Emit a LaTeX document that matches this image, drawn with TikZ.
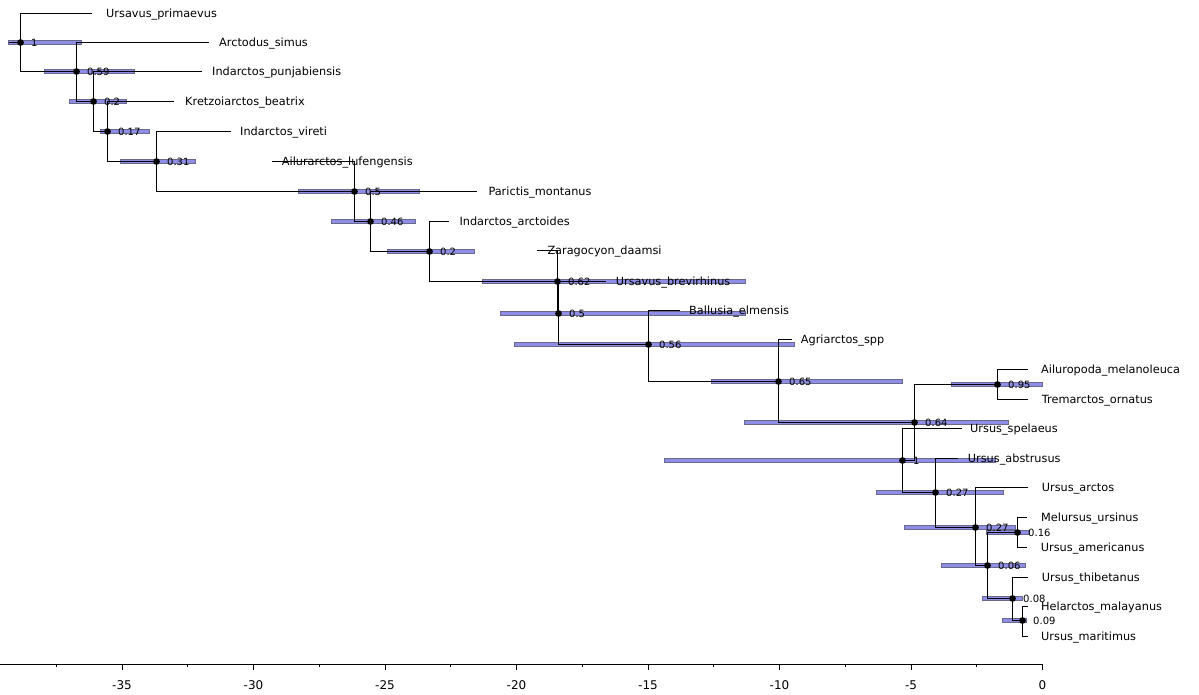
\documentclass[tikz,border=0pt]{standalone}
\usepackage{fontspec}
\setmainfont{DejaVu Sans}
\definecolor{barfill}{RGB}{142,142,230}
\definecolor{barline}{RGB}{105,105,140}
\begin{document}
\begin{tikzpicture}[x=1pt,y=-1pt,
  branch/.style={line width=1pt, black},
  hpd/.style={fill=barfill, draw=barline, line width=0.8pt},
  dot/.style={circle, fill=black, inner sep=0pt, minimum size=6.8pt},
  tiplab/.style={anchor=west, inner sep=0pt, font=\fontsize{11.3}{13}\selectfont, text height=8.2pt, text depth=0pt},
  nodelab/.style={anchor=west, inner sep=0pt, font=\fontsize{10}{12}\selectfont, text height=7.3pt, text depth=0pt, xshift=10.5pt},
  axlab/.style={font=\fontsize{12}{14}\selectfont, inner sep=0pt, anchor=center},
  axisline/.style={line width=1pt, black}
]
\useasboundingbox (0,0) rectangle (1199,695);

% internal nodes
\coordinate (rs) at (8.5,42.5);
\coordinate (r) at (20.5,42.5);
\coordinate (a) at (76.5,71.5);
\coordinate (b) at (93.5,101.5);
\coordinate (c) at (107.5,131.5);
\coordinate (d) at (156.5,161.5);
\coordinate (e) at (354.5,191.5);
\coordinate (f) at (370.5,221.5);
\coordinate (g) at (429.5,251.5);
\coordinate (h) at (557.5,281.5);
\coordinate (i) at (558.5,313.5);
\coordinate (j) at (648.5,344.5);
\coordinate (k) at (778.5,381.5);
\coordinate (l) at (914.5,422.5);
\coordinate (m) at (997.5,384.5);
\coordinate (nn) at (902.5,460.5);
\coordinate (o) at (935.5,492.5);
\coordinate (p) at (975.5,527.5);
\coordinate (q) at (987.5,565.5);
\coordinate (s) at (1017.5,532.5);
\coordinate (t) at (1012.5,598.5);
\coordinate (u) at (1022.5,620.5);

% tips
\coordinate (T1) at (91.5,13.5);
\coordinate (T2) at (208.5,42.5);
\coordinate (T3) at (201.5,71.5);
\coordinate (T4) at (173.5,101.5);
\coordinate (T5) at (230.5,131.5);
\coordinate (T6) at (271.5,161.5);
\coordinate (T7) at (476.5,191.5);
\coordinate (T8) at (448.5,221.5);
\coordinate (T9) at (536.5,250.5);
\coordinate (T10) at (605.5,281.5);
\coordinate (T11) at (679.5,310.5);
\coordinate (T12) at (791.5,339.5);
\coordinate (T13) at (1027.5,369.5);
\coordinate (T14) at (1027.5,399.5);
\coordinate (T15) at (961.5,428.5);
\coordinate (T16) at (957.5,458.5);
\coordinate (T17) at (1027.5,487.5);
\coordinate (T18) at (1026.5,517.5);
\coordinate (T19) at (1026.5,547.5);
\coordinate (T20) at (1027.5,577.5);
\coordinate (T21) at (1027.5,606.5);
\coordinate (T22) at (1027.5,636.5);

% HPD bars
\foreach \xa/\xb/\yy in {8.5/81.5/42.5, 44.5/134.5/71.5, 69.5/126.5/101.5, 100.5/149.5/131.5,
  120.5/195.5/161.5, 298.5/419.5/191.5, 331.5/415.5/221.5, 387.5/474.5/251.5, 482.5/745.5/281.5,
  500.5/745.5/313.5, 514.5/794.5/344.5, 711.5/902.5/381.5, 744.5/1008.5/422.5, 951.5/1042.5/384.5,
  664.5/995.5/460.5, 876.5/1003.5/492.5, 904.5/1015.5/527.5, 941.5/1025.5/565.5, 986.5/1029.5/532.5,
  982.5/1022.5/598.5, 1002.5/1026.5/620.5}
  \draw[hpd] (\xa,\yy-2) rectangle (\xb,\yy+2);

% branches
\draw[branch] (rs) -- (r);
\foreach \pa/\ch in {r/T1, r/a, a/T2, a/b, b/T3, b/c, c/T4, c/d, d/T5, d/e, e/T6, e/f,
  f/T7, f/g, g/T8, g/h, h/T9, h/i, i/T10, i/j, j/T11, j/k, k/T12, k/l, l/m, l/nn,
  m/T13, m/T14, nn/T15, nn/o, o/T16, o/p, p/T17, p/q, q/s, q/t, s/T18, s/T19,
  t/T20, t/u, u/T21, u/T22}
  \draw[branch] (\pa) |- (\ch);

% node dots and posterior labels
\foreach \nd/\val in {r/1, a/0.59, b/0.2, c/0.17, d/0.31, e/0.5, f/0.46, g/0.2, h/0.62,
  i/0.5, j/0.56, k/0.65, l/0.64, m/0.95, nn/1, o/0.27, p/0.27, q/0.06, s/0.16, t/0.08, u/0.09}
{
  \node[dot] (dot-\nd) at (\nd) {};
  \node[nodelab] (lab-\nd) at (\nd) {\val};
}

% tip labels
\node[tiplab] (L1) at (106,13.5) {Ursavus\_primaevus};
\node[tiplab] (L2) at (219,42.5) {Arctodus\_simus};
\node[tiplab] (L3) at (212,71.5) {Indarctos\_punjabiensis};
\node[tiplab] (L4) at (185,101.5) {Kretzoiarctos\_beatrix};
\node[tiplab] (L5) at (240,131.5) {Indarctos\_vireti};
\node[tiplab] (L6) at (281.7,161.5) {Ailurarctos\_lufengensis};
\node[tiplab] (L7) at (488.3,191.5) {Parictis\_montanus};
\node[tiplab] (L8) at (459.3,221.5) {Indarctos\_arctoides};
\node[tiplab] (L9) at (547.3,250.5) {Zaragocyon\_daamsi};
\node[tiplab] (L10) at (615.7,281.5) {Ursavus\_brevirhinus};
\node[tiplab] (L11) at (689,310.5) {Ballusia\_elmensis};
\node[tiplab] (L12) at (800.7,339.5) {Agriarctos\_spp};
\node[tiplab] (L13) at (1041,369.5) {Ailuropoda\_melanoleuca};
\node[tiplab] (L14) at (1041.7,399.5) {Tremarctos\_ornatus};
\node[tiplab] (L15) at (970,428.5) {Ursus\_spelaeus};
\node[tiplab] (L16) at (967.7,458.5) {Ursus\_abstrusus};
\node[tiplab] (L17) at (1041.7,487.5) {Ursus\_arctos};
\node[tiplab] (L18) at (1041,517.5) {Melursus\_ursinus};
\node[tiplab] (L19) at (1040.7,547.5) {Ursus\_americanus};
\node[tiplab] (L20) at (1041.7,577.5) {Ursus\_thibetanus};
\node[tiplab] (L21) at (1041,606.5) {Helarctos\_malayanus};
\node[tiplab] (L22) at (1041,636.5) {Ursus\_maritimus};

% time axis
\coordinate (ax0) at (0,664.5);
\coordinate (ax1) at (1042.5,664.5);
\draw[axisline] (ax0) -- (ax1);
\foreach \kk/\lab in {0/0, 1/-5, 2/-10, 3/-15, 4/-20, 5/-25, 6/-30, 7/-35, 8/-40}
{
  \coordinate (tk\kk) at ({1042.5-131.5*\kk},664.5);
  \draw[line width=1pt] (tk\kk) -- ++(0,5);
  \node[axlab] (axl\kk) at ({1042.5-131.5*\kk},685) {\lab};
}
\foreach \kk in {0,...,7}
{
  \coordinate (mt\kk) at ({1042.5-131.5*\kk-65.75},664.5);
  \draw[line width=1pt] (mt\kk) -- ++(0,2.5);
}
\end{tikzpicture}
\end{document}
